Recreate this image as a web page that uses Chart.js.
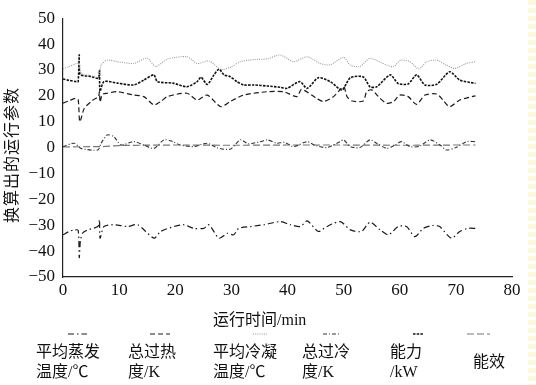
<!DOCTYPE html>
<html>
<head>
<meta charset="utf-8">
<script src="https://cdn.jsdelivr.net/npm/chart.js@4.4.1/dist/chart.umd.min.js"></script>
<style>
  html, body { margin: 0; padding: 0; background: #fff; }
  #wrap { position: relative; width: 536px; height: 385px; overflow: hidden;
          font-family: "Liberation Serif", "Noto Sans CJK SC", serif; color: #111; }
  #c { position: absolute; left: 0; top: 0; }
  .txt { position: absolute; font-size: 16px; line-height: 20px; white-space: nowrap; }
  .ytitle { position: absolute; left: 10px; top: 155px; font-size: 16px; white-space: nowrap;
            transform: translate(-50%, -50%) rotate(-90deg); letter-spacing: 1px; }
  .strip { position: absolute; left: 528px; top: 0; width: 8px; height: 385px;
           background: repeating-linear-gradient(#fbf8dc 0 5px, #fff 5px 8px); }
  svg.smp { position: absolute; overflow: visible; }
</style>
</head>
<body>
<div id="wrap">
  <canvas id="c" width="536" height="385"></canvas>
  <div class="strip"></div>
  <div class="ytitle">换算出的运行参数</div>
  <div class="txt" style="left:213px; top:310px;">运行时间/min</div>
  <div id="legend"></div>
</div>
<script>
// séries (temps en min)
const evapTime = [0, 1, 2.0, 2.7, 2.9, 3.1, 3.5, 4.4, 6.2, 6.5, 6.6, 7.3, 9.1, 11.5, 13.3, 16.2, 17.4, 19.8, 21.5, 23.3, 25.1, 26, 27.8, 29.3, 30.4, 31.3, 33.4, 35.8, 38.7, 40.5, 42.3, 43.5, 45.5, 47, 49.4, 51.2, 53.2, 54.7, 56.5, 58, 59.7, 61.2, 62.7, 64.2, 65.9, 67.1, 69.2, 70.7, 72.2, 73.5];
const evapTemp = [-33.7, -32.5, -31.8, -32, -42.5, -36, -33, -31.8, -30.5, -27.9, -35, -30.5, -29.8, -30.5, -29.8, -35, -32.4, -30.5, -29.8, -31.2, -31.2, -29.8, -35, -33.1, -33.7, -31.2, -30.5, -29.8, -28.6, -29.8, -30.5, -28.3, -32.4, -30.5, -28.6, -31.8, -32.4, -28.8, -31.8, -33.7, -30.5, -30.5, -34.4, -31.2, -30.1, -30.5, -35, -32.4, -31.2, -31.2];

const superheatTime = [0, 1, 2.2, 2.7, 3.0, 3.8, 5.3, 6.3, 6.5, 6.6, 7.0, 7.9, 9.7, 12.6, 14.4, 16.2, 17.4, 18.6, 22.1, 23.9, 25.7, 28.1, 29.8, 32.2, 36.4, 39.3, 41.7, 42.5, 45.2, 46.4, 48.2, 50, 50.6, 51.5, 53.5, 54.1, 55, 56.5, 57.7, 58.9, 60, 61.5, 63, 64.5, 66.6, 67.7, 68.9, 70.7, 73.5];
const superheat = [17.2, 18, 19, 18.5, 10, 15.2, 18.3, 19.7, 21.6, 17.5, 20.5, 21, 21.6, 20.3, 19.7, 16.5, 17.8, 19.7, 21, 18.4, 20.3, 15.8, 17.8, 20.3, 21.6, 21.6, 19.7, 22.5, 19, 17.8, 19.7, 23.5, 19.7, 18, 18, 21.6, 22.3, 19, 17.1, 17.8, 20.3, 19.7, 16.7, 20.3, 20.7, 18.4, 15.8, 18.4, 20];

const condTime = [0, 1, 2.4, 2.9, 3.3, 5, 6.3, 6.8, 7.9, 9.7, 12.6, 15, 16.5, 18.6, 22.1, 23.9, 26, 28.1, 29.8, 31.6, 34, 36.4, 38.7, 41.1, 43.5, 45.8, 47.6, 50, 51.2, 52.9, 54.7, 57.7, 58.9, 60.2, 61.8, 63.4, 64.8, 66.6, 68.3, 69.8, 71.9, 73.5];
const condTemp = [30.5, 31.2, 32.5, 32.8, 28.6, 27.8, 27.2, 31.9, 33.8, 33.2, 32.5, 34.6, 31.3, 34.2, 35.1, 32.5, 33.5, 30.2, 31.0, 33.2, 34, 34.3, 35.8, 33.2, 35.1, 32.5, 32.0, 34.9, 31.9, 31.3, 34.5, 31.9, 31.3, 33.8, 33.2, 30.4, 33.2, 33.8, 31.9, 30.6, 32.5, 33.2];

const subcoolTime = [0, 2, 3.2, 6.2, 6.8, 7.9, 9.1, 10.3, 12.6, 14.4, 16.2, 18, 19.6, 20.9, 23.3, 25.7, 27.5, 29.8, 31.6, 33, 35.2, 36.4, 38.1, 39.5, 41.1, 43.5, 44.9, 47, 49.4, 50, 51.2, 52.9, 54.7, 56, 57.7, 59, 60.3, 61.8, 63.5, 65.4, 67.2, 68.3, 70, 71.9, 73.5];
const subcool = [0.4, 1.7, -0.3, -0.9, 1.7, 4.9, 4.2, 1, 2.3, 1, -0.3, 3, 2.3, 1, 0.4, 1.7, -0.1, -0.6, 3, 1.5, 2.3, 3, 1.7, 2, 0.4, 2.3, 0.9, 0, 2.3, 3, 0.4, 0, 3, 1.5, -0.3, 0.8, 2.3, 0.4, 0.5, 3, 1, -0.9, 0, 2.3, 2.3];

const capTime = [0, 1, 2.4, 2.7, 2.9, 3.05, 5, 6.3, 6.5, 6.6, 7.3, 9.7, 12.6, 14.4, 16.2, 16.8, 19.6, 22.1, 23.9, 24.6, 25.7, 26.9, 27.8, 28.7, 29.8, 31, 32.2, 34, 36.4, 38.7, 39.9, 42.2, 43.5, 45.5, 47.6, 49.7, 51.2, 53.5, 54.7, 55.9, 58.3, 59.7, 61.5, 63, 64.5, 66.6, 68.9, 70.7, 73.5];
const capacity = [26.5, 26, 25.5, 25.5, 35.8, 28.3, 27.5, 26.8, 30, 21.8, 25.5, 24.9, 24.2, 26.1, 28.1, 25.5, 24.9, 23.5, 25.5, 27.2, 24.4, 28.1, 30.3, 28.1, 27.4, 25.5, 24.2, 24.2, 23.8, 23.3, 22.9, 25.5, 22.9, 27.0, 25.5, 22.3, 27.0, 27.3, 23.5, 23.5, 28.1, 24.8, 24.6, 28.1, 24.2, 24.5, 29.3, 26.1, 24.8];

const copTime = [0, 7, 10, 20, 30, 40, 50, 60, 70, 73.5];
const cop = [0.3, 0.4, 0.8, 1.0, 0.9, 1.0, 1.0, 0.9, 1.0, 1.0];

const legendLabels = [['平均蒸发', '温度/℃'], ['总过热', '度/K'], ['平均冷凝', '温度/℃'], ['总过冷', '度/K'], ['能力', '/kW'], ['能效']];
const yTicks = [-50, -40, -30, -20, -10, 0, 10, 20, 30, 40, 50];

function pts(xs, ys) {
    return xs.map((x, i) => ({ x: x, y: ys[i] }));
}

const styles = [
    { color: '#1a1a1a', dash: [6, 3, 1.5, 3], width: 1.2 },
    { color: '#1a1a1a', dash: [5, 3], width: 1.2 },
    { color: '#9a9a9a', dash: [1, 1.2], width: 1.1 },
    { color: '#333333', dash: [4, 2, 1, 2], width: 1.1 },
    { color: '#111111', dash: [2.5, 1.2], width: 1.6 },
    { color: '#777777', dash: [7, 3], width: 1.2 }
];

const series = [
    pts(evapTime, evapTemp),
    pts(superheatTime, superheat),
    pts(condTime, condTemp),
    pts(subcoolTime, subcool),
    pts(capTime, capacity),
    pts(copTime, cop)
];

const datasets = series.map((d, i) => ({
    label: legendLabels[i].join(''),
    data: d,
    borderColor: styles[i].color,
    borderDash: styles[i].dash,
    borderWidth: styles[i].width,
    pointRadius: 0,
    tension: 0.25,
    fill: false
}));

const tickFont = { family: "'Liberation Serif', 'Times New Roman', serif", size: 17 };

new Chart(document.getElementById('c'), {
    type: 'line',
    data: { datasets: datasets },
    options: {
        responsive: false,
        animation: false,
        layout: { padding: { left: 0, top: 17, right: 24, bottom: 78 } },
        plugins: { legend: { display: false }, tooltip: { enabled: false } },
        scales: {
            x: {
                type: 'linear',
                min: 0, max: 80,
                grid: { display: false, drawTicks: false },
                border: { display: true, color: '#222', width: 1.2 },
                ticks: { stepSize: 10, color: '#111', font: tickFont, padding: 3, maxRotation: 0 },
                afterFit: function(scale) { scale.height = 30; }
            },
            y: {
                min: -50, max: 50,
                grid: { display: false, drawTicks: false },
                border: { display: true, color: '#222', width: 1.2 },
                afterBuildTicks: function(scale) { scale.ticks = yTicks.map(v => ({ value: v })); },
                ticks: {
                    color: '#111', font: tickFont, padding: 8,
                    callback: v => (v < 0 ? '\u2212' + Math.abs(v) : String(v))
                },
                afterFit: function(scale) { scale.width = 63; }
            }
        }
    }
});

// légende : échantillon de trait au-dessus du texte
const legendPos = [
    { sx: 68, sw: 19, tx: 36 },
    { sx: 150, sw: 20, tx: 128 },
    { sx: 253, sw: 14, tx: 213 },
    { sx: 323, sw: 17, tx: 302 },
    { sx: 413, sw: 10, tx: 390 },
    { sx: 467, sw: 23, tx: 473 }
];
const legend = document.getElementById('legend');
legendPos.forEach((p, i) => {
    const svg = document.createElementNS('http://www.w3.org/2000/svg', 'svg');
    svg.setAttribute('class', 'smp');
    svg.setAttribute('width', p.sw);
    svg.setAttribute('height', 4);
    svg.style.left = p.sx + 'px';
    svg.style.top = '332px';
    const ln = document.createElementNS('http://www.w3.org/2000/svg', 'line');
    ln.setAttribute('x1', 0); ln.setAttribute('x2', p.sw);
    ln.setAttribute('y1', 2); ln.setAttribute('y2', 2);
    ln.setAttribute('stroke', styles[i].color);
    ln.setAttribute('stroke-width', styles[i].width);
    ln.setAttribute('stroke-dasharray', styles[i].dash.join(' '));
    svg.appendChild(ln);
    legend.appendChild(svg);

    const t = document.createElement('div');
    t.className = 'txt';
    t.style.left = p.tx + 'px';
    t.style.top = (legendLabels[i].length > 1 ? 342 : 352) + 'px';
    t.innerHTML = legendLabels[i].join('<br>');
    legend.appendChild(t);
});
</script>
</body>
</html>
